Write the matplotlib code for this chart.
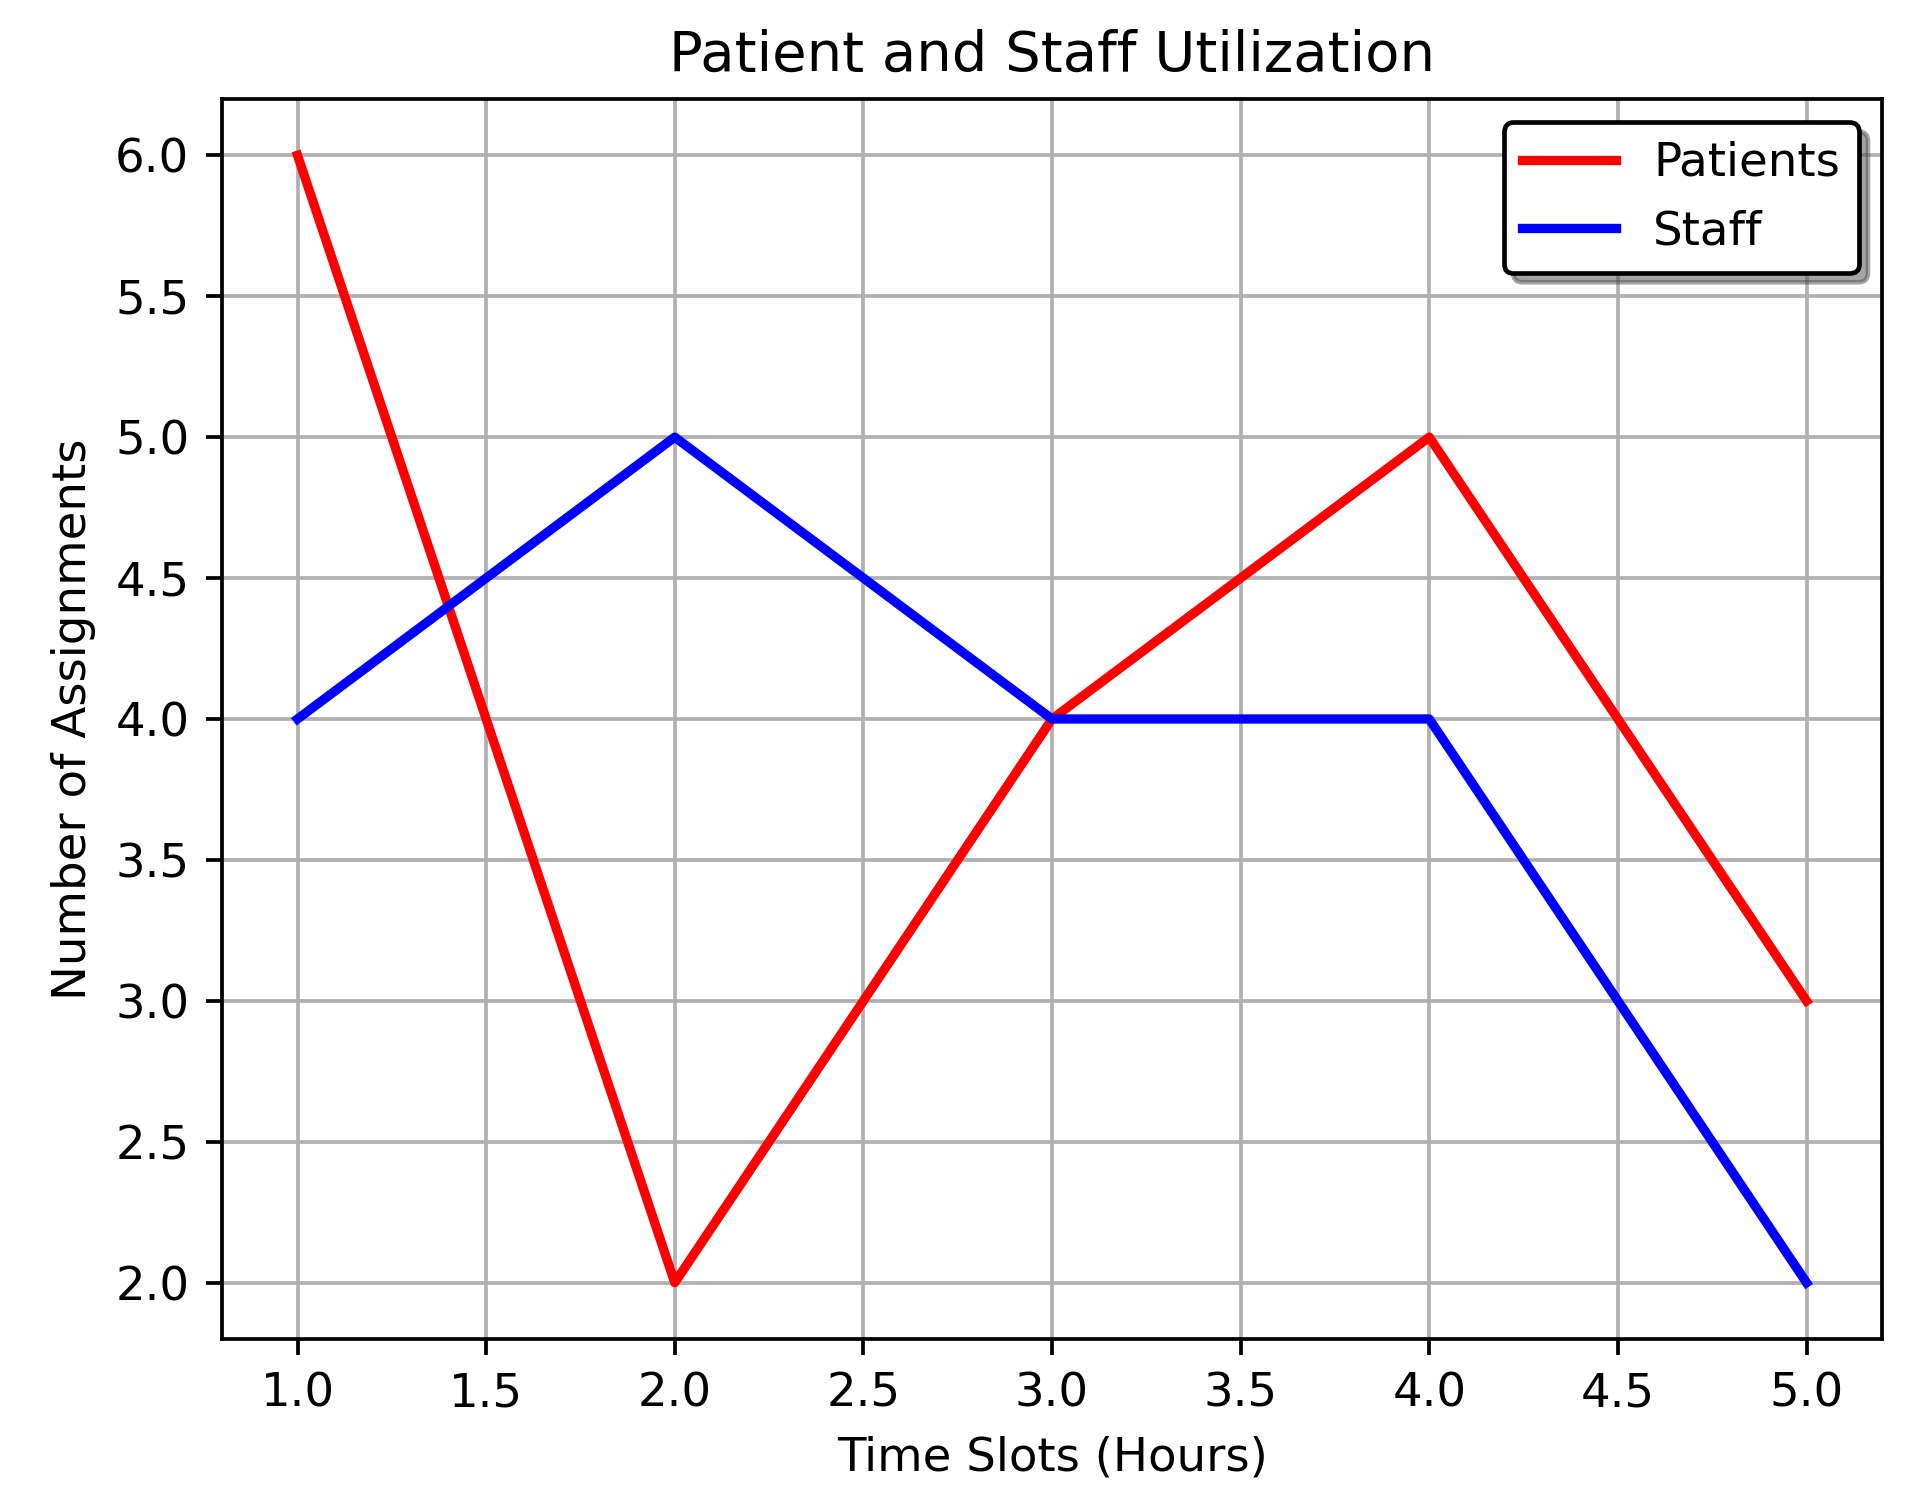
import matplotlib
matplotlib.use("Agg")
import matplotlib.pyplot as plt

time_slots = [1, 2, 3, 4, 5]
patients = [6, 2, 4, 5, 3]
staff = [4, 5, 4, 4, 2]

DPI = 336
fig = plt.figure(figsize=(1931/DPI, 1499/DPI), dpi=DPI)
ax = fig.add_axes([0.115, 0.1067, 0.8596, 0.8273])
ax.plot(time_slots, patients, color='red', linewidth=2, label='Patients')
ax.plot(time_slots, staff, color='blue', linewidth=2, label='Staff')
ax.set_title('Patient and Staff Utilization')
ax.set_xlabel('Time Slots (Hours)')
ax.set_ylabel('Number of Assignments')
ax.grid(True)
ax.legend(loc='upper right', shadow=True, fancybox=True, edgecolor='black', framealpha=1)
fig.savefig('out.png', dpi=DPI)
